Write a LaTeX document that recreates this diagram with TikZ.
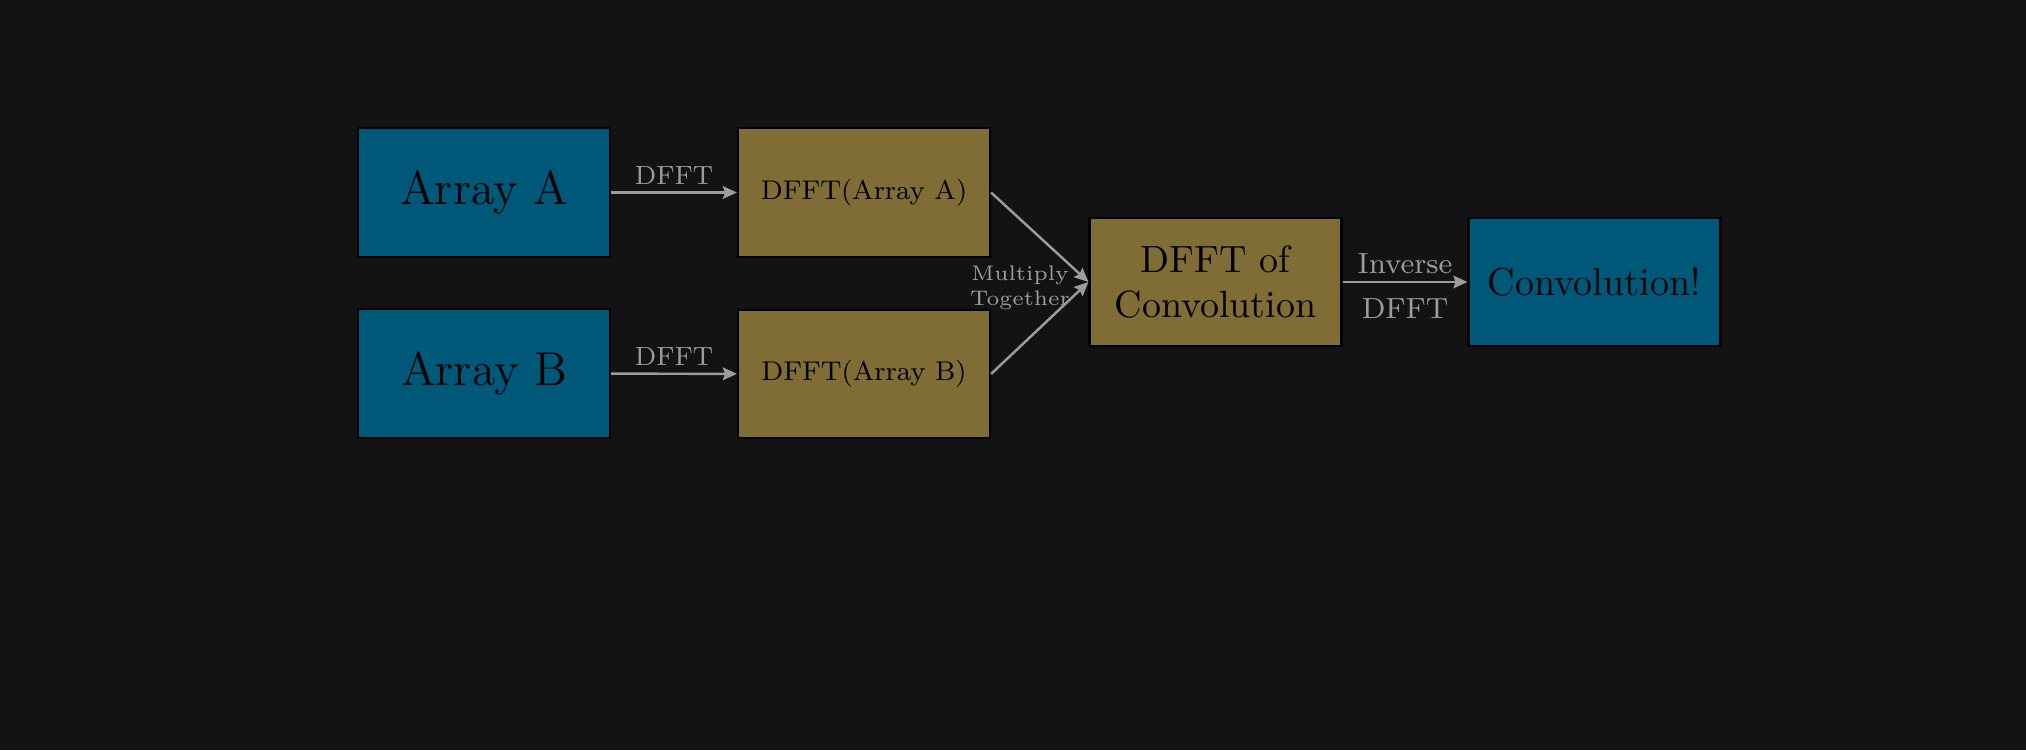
\documentclass[tikz,border=0pt]{standalone}
\usetikzlibrary{arrows.meta}
\definecolor{bgdark}{HTML}{131313}
\definecolor{boxblue}{HTML}{005878}
\definecolor{boxgold}{HTML}{7F6D35}
\definecolor{linegray}{HTML}{9C9C9C}
\begin{document}
\begin{tikzpicture}[
  box/.style={draw=black, line width=0.6pt, minimum width=2.52cm, minimum height=1.285cm, inner sep=0pt, text=black},
  bluebox/.style={box, fill=boxblue},
  goldbox/.style={box, fill=boxgold},
  flow/.style={draw=linegray, line width=0.7pt, -{Stealth[length=4pt,width=3.6pt,inset=0.6pt]}},
  lbl/.style={text=linegray, inner sep=2pt, font=\fontsize{7.5}{9}\selectfont}]
\fill[bgdark] (0,0) rectangle (20.26,7.5);
\node[bluebox, font=\fontsize{13.5}{15}\selectfont] (arrA) at (4.84,5.575) {Array A};
\node[bluebox, font=\fontsize{13.5}{15}\selectfont] (arrB) at (4.84,3.765) {Array B};
\node[goldbox, font=\fontsize{7.7}{10}\selectfont] (fftA) at (8.64,5.575) {DFFT(Array A)};
\node[goldbox, font=\fontsize{7.7}{10}\selectfont] (fftB) at (8.64,3.76) {DFFT(Array B)};
\node[goldbox, font=\fontsize{10.8}{13}\selectfont, align=center] (conv) at (12.155,4.68) {DFFT of\\Convolution};
\node[bluebox, font=\fontsize{11.1}{13}\selectfont] (res) at (15.945,4.68) {Convolution!};
\draw[flow] (arrA) -- node[lbl, above] {DFFT} (fftA);
\draw[flow] (arrB) -- node[lbl, above] {DFFT} (fftB);
\draw[flow] (fftA.east) -- (conv.west);
\draw[flow] (fftB.east) -- (conv.west);
\node[lbl, font=\fontsize{6}{7}\selectfont, align=center] (mult) at (10.20,4.62) {Multiply\\Together};
\draw[flow] (conv) -- node[lbl, above, font=\fontsize{8.3}{10}\selectfont] {Inverse}
  node[lbl, below, yshift=-2.5pt, font=\fontsize{8.3}{10}\selectfont] {DFFT} (res);
\end{tikzpicture}
\end{document}
